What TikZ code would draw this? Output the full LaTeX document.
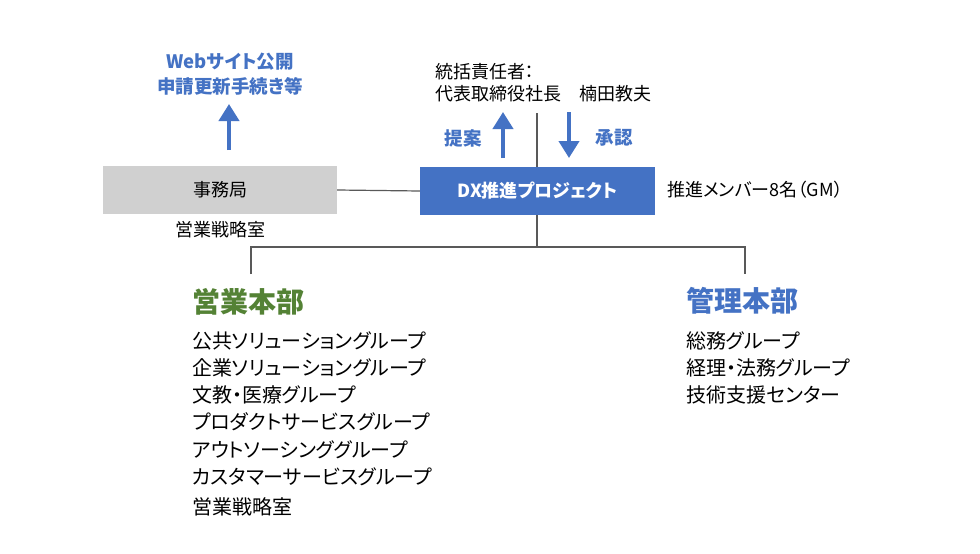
\documentclass[tikz,border=0pt]{standalone}
\usepackage{fontspec}
\setmainfont{Noto Sans CJK JP}[RawFeature=+palt]
\usetikzlibrary{arrows.meta}
\definecolor{dxblue}{HTML}{4472C4}
\definecolor{boxgray}{HTML}{D0D0D0}
\definecolor{hqgreen}{HTML}{548235}
\definecolor{linegray}{HTML}{595959}
\tikzset{
  conn/.style={draw=linegray, line width=1.2pt},
  bigarrow/.style={draw=dxblue, line width=4pt, -{Triangle[length=17pt,width=20pt]}},
  txt/.style={inner sep=0pt, text=black, font=\fontsize{18}{21}\selectfont},
  bluelabel/.style={inner sep=0pt, text=dxblue, font=\bfseries\fontsize{18.5}{24}\selectfont},
  headg/.style={inner sep=0pt, anchor=west, text=hqgreen, font=\bfseries\fontsize{28}{30}\selectfont},
  headb/.style={inner sep=0pt, anchor=west, text=dxblue, font=\bfseries\fontsize{28}{30}\selectfont},
  item/.style={inner sep=0pt, anchor=west, text=black, font=\fontsize{20}{24}\selectfont},
}
\begin{document}
\begin{tikzpicture}[x=1pt,y=-1pt]
\useasboundingbox[fill=white] (0,0) rectangle (980,554);
% boxes
\node[fill=boxgray, minimum width=234pt, minimum height=48pt, inner sep=0pt, text=black, font=\fontsize{18}{21}\selectfont] (jim) at (220,190) {事務局};
\node[fill=dxblue, minimum width=235pt, minimum height=48pt, inner sep=0pt, text=white, font=\bfseries\fontsize{18}{21}\selectfont] (dx) at (537.5,191) {DX推進プロジェクト};
\node[txt] (eisen) at (220,230) {営業戦略室};
\node[txt, anchor=west] (member) at (667,190) {推進メンバー8名（GM）};
% top texts
\node[txt, anchor=west] (tokatsu1) at (435,72) {統括責任者：};
\node[txt, anchor=west] (tokatsu2) at (435,94) {代表取締役社長\quad 楠田教夫};
\coordinate (topline) at (537,113);
\node[bluelabel] (web1) at (230,62) {Webサイト公開};
\node[bluelabel] (web2) at (230,86) {申請更新手続き等};
\node[bluelabel] (teian) at (463,138) {提案};
\node[bluelabel] (shonin) at (614,138) {承認};
% arrows
\coordinate (wa1) at (229,150);
\coordinate (wa2) at (229,104);
\draw[bigarrow] (wa1) -- (wa2);
\coordinate (ua1) at (503,158);
\coordinate (ua2) at (503,112);
\draw[bigarrow] (ua1) -- (ua2);
\coordinate (da1) at (569,112);
\coordinate (da2) at (569,158);
\draw[bigarrow] (da1) -- (da2);
% connectors
\draw[conn] (jim.east) -- (dx.west);
\draw[conn] (topline) -- (dx.north -| topline);
\coordinate (branch) at (537,247);
\coordinate (leftc) at (251,247);
\coordinate (rightc) at (745,247);
\coordinate (leftend) at (251,274);
\coordinate (rightend) at (745,274);
\draw[conn] (dx.south -| branch) -- (branch);
\draw[conn] (leftend) -- (leftc) -- (rightc) -- (rightend);
% sales HQ
\node[headg] (eigyo) at (192,302) {営業本部};
\node[item] (e1) at (192,341) {公共ソリューショングループ};
\node[item] (e2) at (192,368) {企業ソリューショングループ};
\node[item] (e3) at (192,395) {文教・医療グループ};
\node[item] (e4) at (192,422) {プロダクトサービスグループ};
\node[item] (e5) at (192,450) {アウトソーシンググループ};
\node[item] (e6) at (192,477) {カスタマーサービスグループ};
\node[item] (e7) at (192,507) {営業戦略室};
% admin HQ
\node[headb] (kanri) at (686,301) {管理本部};
\node[item] (k1) at (686,341) {総務グループ};
\node[item] (k2) at (686,368) {経理・法務グループ};
\node[item] (k3) at (686,395) {技術支援センター};
\end{tikzpicture}
\end{document}
